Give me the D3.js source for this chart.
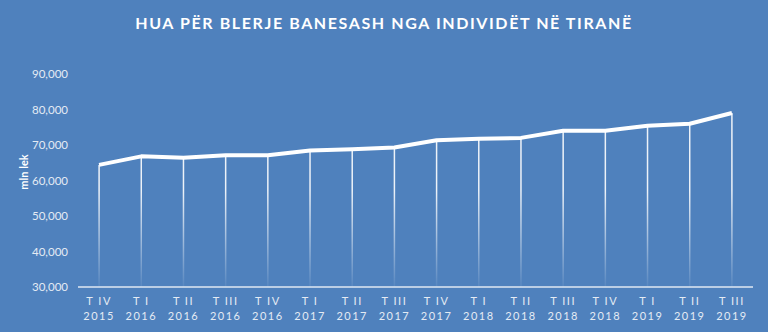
<!DOCTYPE html>
<html><head><meta charset="utf-8">
<script src="https://cdn.jsdelivr.net/npm/d3@7"></script>
<style>
html,body{margin:0;padding:0;background:#4F81BD;}
svg{display:block;}
</style></head><body>
<script>
const quarters = ["T IV","T I","T II","T III","T IV","T I","T II","T III","T IV","T I","T II","T III","T IV","T I","T II","T III"];
const years = ["2015","2016","2016","2016","2016","2017","2017","2017","2017","2018","2018","2018","2018","2019","2019","2019"];
const values = [64400,66800,66400,67100,67100,68450,68800,69300,71350,71750,72000,74000,74000,75400,76000,79000];
const yTicks = [30000,40000,50000,60000,70000,80000,90000];
const title = "HUA PËR BLERJE BANESASH NGA INDIVIDËT NË TIRANË";
const yTitle = "mln lek";

const W=768,H=332;
const svg=d3.select("body").append("svg").attr("width",W).attr("height",H);
svg.append("rect").attr("width",W).attr("height",H).attr("fill","#4F81BD");

const idx = values.map((d,i)=>i);
const x=d3.scaleBand().domain(idx).range([78,753]);
const y=d3.scaleLinear().domain([30000,90000]).range([287,74]);
const txt="#e4ebf4";
const font="Lato, 'Open Sans', sans-serif";

const defs=svg.append("defs");
const g=defs.append("linearGradient").attr("id","fade").attr("gradientUnits","userSpaceOnUse")
  .attr("x1",0).attr("x2",0).attr("y1",190).attr("y2",287);
g.append("stop").attr("offset","0").attr("stop-color","#fff").attr("stop-opacity",0.9);
g.append("stop").attr("offset","1").attr("stop-color","#fff").attr("stop-opacity",0.05);

svg.append("text").attr("x",384).attr("y",29).attr("text-anchor","middle")
  .attr("fill","#fff").attr("font-family",font).attr("font-weight","bold")
  .attr("font-size",16).attr("letter-spacing","1.6px").text(title);

// y axis labels
const ya=svg.append("g").attr("transform","translate(68,0)")
  .call(d3.axisLeft(y).tickValues(yTicks).tickSize(0).tickPadding(0).tickFormat(d3.format(",")));
ya.select(".domain").remove();
ya.selectAll("text").attr("fill",txt).attr("font-family",font).attr("font-size",11.5);

svg.append("text").attr("transform","translate(28,172) rotate(-90)").attr("text-anchor","middle")
  .attr("fill","#fff").attr("font-family",font).attr("font-weight","bold")
  .attr("font-size",11).text(yTitle);

// drop lines
svg.append("g").selectAll("line").data(values).join("line")
  .attr("x1",(d,i)=>x(i)+x.bandwidth()/2).attr("x2",(d,i)=>x(i)+x.bandwidth()/2)
  .attr("y1",d=>y(d)).attr("y2",287)
  .attr("stroke","url(#fade)").attr("stroke-width",1.5);

// x axis line
svg.append("line").attr("x1",78).attr("x2",753).attr("y1",287).attr("y2",287)
  .attr("stroke","#dfe8f3").attr("stroke-width",1.3);

// line
svg.append("path").datum(values)
  .attr("d",d3.line().x((d,i)=>x(i)+x.bandwidth()/2).y(d=>y(d)))
  .attr("fill","none").attr("stroke","#fff").attr("stroke-width",4).attr("stroke-linejoin","round");

// x labels
const xl=svg.append("g").selectAll("text").data(idx).join("text")
  .attr("x",i=>x(i)+x.bandwidth()/2).attr("text-anchor","middle")
  .attr("fill",txt).attr("font-family",font).attr("font-size",11)
  .attr("letter-spacing","1.5px");
xl.append("tspan").attr("x",i=>x(i)+x.bandwidth()/2).attr("y",305).text(i=>quarters[i]);
xl.append("tspan").attr("x",i=>x(i)+x.bandwidth()/2).attr("y",320).text(i=>years[i]);
</script>
</body></html>
